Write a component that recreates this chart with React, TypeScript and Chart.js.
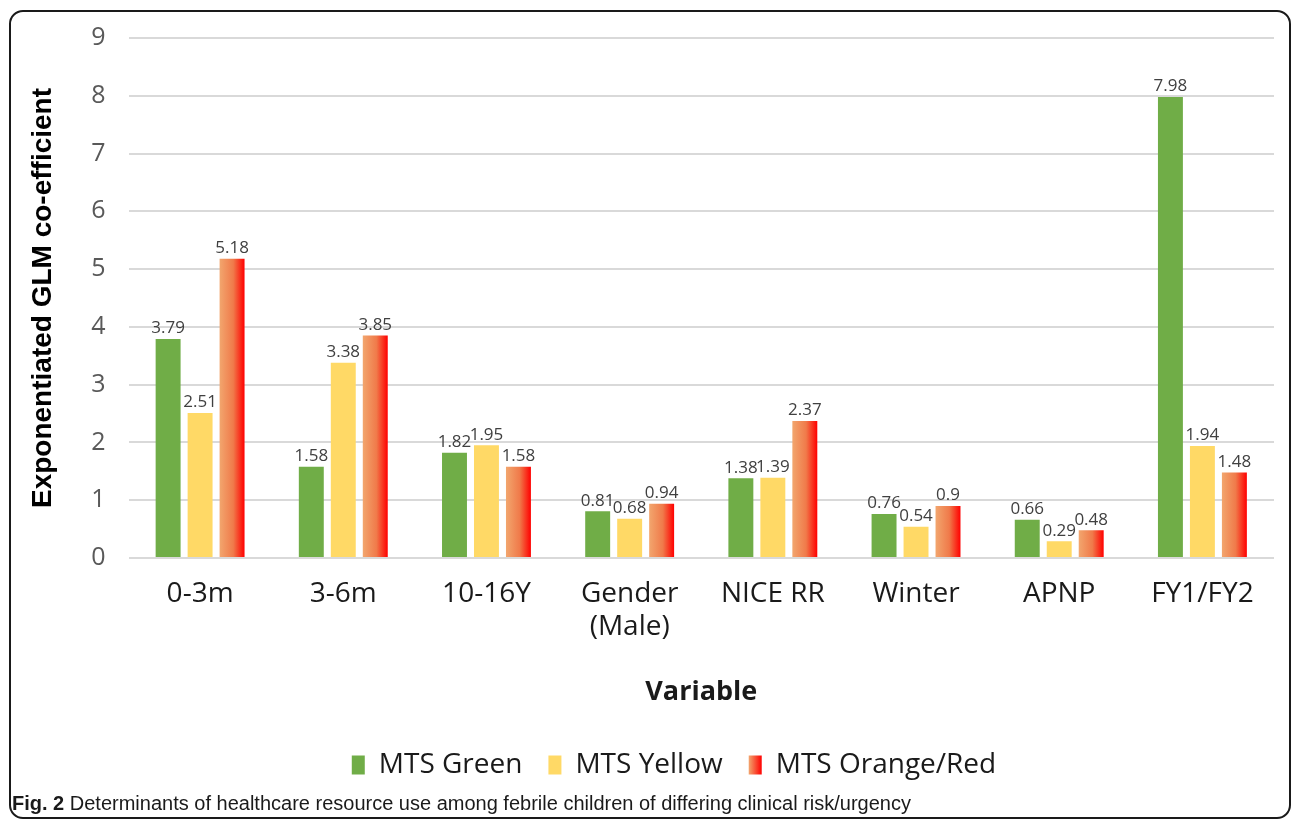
import React, { useEffect, useRef } from "react";
import { Chart, registerables } from "chart.js";

Chart.register(...registerables);

const categories: (string | string[])[] = [
  "0-3m",
  "3-6m",
  "10-16Y",
  ["Gender", "(Male)"],
  "NICE RR",
  "Winter",
  "APNP",
  "FY1/FY2",
];
const mtsGreen = [3.79, 1.58, 1.82, 0.81, 1.38, 0.76, 0.66, 7.98];
const mtsYellow = [2.51, 3.38, 1.95, 0.68, 1.39, 0.54, 0.29, 1.94];
const mtsOrangeRed = [5.18, 3.85, 1.58, 0.94, 2.37, 0.9, 0.48, 1.48];
const seriesNames = ["MTS Green", "MTS Yellow", "MTS Orange/Red"];
const yTicks = [0, 1, 2, 3, 4, 5, 6, 7, 8, 9];

const CAT_PCT = 0.67;
const BAR_PCT = 0.78;
const GRAD_FROM = "#F2A66E";
const GRAD_TO = "#FF0000";
const LEGEND_SHIFT = 24;

function orangeGradient(ctx: any) {
  const chart = ctx.chart;
  const xs = chart.scales && chart.scales.x;
  if (!xs || ctx.type !== "data" || xs.right == null) return "#F46A3A";
  const n = categories.length;
  const catW = (xs.right - xs.left) / n;
  const center = xs.getPixelForValue(ctx.dataIndex);
  const groupW = catW * CAT_PCT;
  const slot = groupW / 3;
  const barW = slot * BAR_PCT;
  const bc = center - groupW / 2 + slot * (ctx.datasetIndex + 0.5);
  if (!isFinite(bc)) return "#F46A3A";
  const g = chart.ctx.createLinearGradient(bc - barW / 2, 0, bc + barW / 2, 0);
  g.addColorStop(0, GRAD_FROM);
  g.addColorStop(0.55, "#F07A4A");
  g.addColorStop(1, GRAD_TO);
  return g;
}

const valueLabels = {
  id: "valueLabels",
  afterDatasetsDraw(chart: any) {
    const c = chart.ctx;
    c.save();
    c.font = "17px 'Open Sans'";
    c.fillStyle = "#404040";
    c.textAlign = "center";
    c.textBaseline = "bottom";
    chart.data.datasets.forEach((ds: any, di: number) => {
      const meta = chart.getDatasetMeta(di);
      meta.data.forEach((el: any, i: number) => {
        c.fillText(String(ds.data[i]), el.x, el.y - 2);
      });
    });
    c.restore();
  },
};

const legendTweaks = {
  id: "legendTweaks",
  afterUpdate(chart: any) {
    const lg = chart.legend;
    if (!lg) return;
    lg.left += LEGEND_SHIFT;
    lg.right += LEGEND_SHIFT;
    if (lg.legendHitBoxes) lg.legendHitBoxes.forEach((h: any) => (h.left += LEGEND_SHIFT));
  },
  beforeDraw(chart: any) {
    const lg = chart.legend;
    if (!lg || !lg.legendHitBoxes || !lg.legendItems) return;
    const hb = lg.legendHitBoxes[2];
    const item = lg.legendItems[2];
    if (!hb || !item) return;
    const bw = lg.options.labels.boxWidth;
    const g = chart.ctx.createLinearGradient(hb.left, 0, hb.left + bw, 0);
    g.addColorStop(0, GRAD_FROM);
    g.addColorStop(1, GRAD_TO);
    item.fillStyle = g;
  },
};

export default function App() {
  const ref = useRef<HTMLCanvasElement | null>(null);
  useEffect(() => {
    if (!ref.current) return;
    const chart = new Chart(ref.current, {
      type: "bar",
      data: {
        labels: categories,
        datasets: [
          { label: seriesNames[0], data: mtsGreen, backgroundColor: "#70AD47" },
          { label: seriesNames[1], data: mtsYellow, backgroundColor: "#FFD966" },
          { label: seriesNames[2], data: mtsOrangeRed, backgroundColor: orangeGradient as any },
        ],
      },
      plugins: [valueLabels, legendTweaks],
      options: {
        responsive: false,
        animation: false,
        events: [],
        datasets: { bar: { categoryPercentage: CAT_PCT, barPercentage: BAR_PCT } } as any,
        layout: { padding: { top: 38, left: 26, right: 18, bottom: 6 } },
        plugins: {
          tooltip: { enabled: false },
          legend: {
            position: "bottom",
            labels: {
              font: { family: "'Open Sans'", size: 28 },
              color: "#1a1a1a",
              boxWidth: 13,
              boxHeight: 19,
              padding: 26,
            },
          },
        },
        scales: {
          x: {
            grid: { display: false },
            border: { display: false },
            ticks: {
              font: { family: "'Open Sans'", size: 28 },
              color: "#1a1a1a",
              padding: 11,
              maxRotation: 0,
            },
            title: {
              display: true,
              text: "Variable",
              font: { family: "'Open Sans'", size: 27, weight: "bold" },
              color: "#1a1a1a",
              padding: { top: 0, bottom: 16 },
            },
            afterFit(scale: any) {
              scale.height = 167;
            },
          },
          y: {
            min: 0,
            max: 9,
            afterBuildTicks(scale: any) {
              scale.ticks = yTicks.map((v) => ({ value: v }));
            },
            grid: { color: "#D9D9D9", lineWidth: 2, drawTicks: false },
            border: { display: false },
            ticks: {
              font: { family: "'Open Sans'", size: 25 },
              color: "#595959",
              padding: 23,
            },
            title: {
              display: true,
              text: "Exponentiated GLM co-efficient",
              font: { family: "'Liberation Sans'", size: 28, weight: "bold" },
              color: "#000000",
              padding: { top: 0, bottom: 0 },
            },
            afterFit(scale: any) {
              scale.width = 102.5;
            },
          },
        },
      } as any,
    });
    return () => chart.destroy();
  }, []);

  return (
    <div
      style={{
        position: "fixed",
        left: 0,
        top: 0,
        width: 1292,
        height: 822,
        background: "#ffffff",
        overflow: "hidden",
      }}
    >
      <div
        style={{
          position: "absolute",
          left: 9,
          top: 10,
          width: 1282,
          height: 809,
          boxSizing: "border-box",
          border: "2px solid #1a1a1a",
          borderRadius: 14,
        }}
      />
      <canvas
        ref={ref}
        width={1292}
        height={795}
        style={{ position: "absolute", left: 0, top: 0, width: 1292, height: 795 }}
      />
      <div
        style={{
          position: "absolute",
          left: 12,
          top: 791,
          fontFamily: "'Liberation Sans', sans-serif",
          fontSize: 20,
          color: "#1a1a1a",
          whiteSpace: "nowrap",
          lineHeight: "24px",
        }}
      >
        <b>Fig. 2</b> Determinants of healthcare resource use among febrile children of differing clinical risk/urgency
      </div>
    </div>
  );
}
